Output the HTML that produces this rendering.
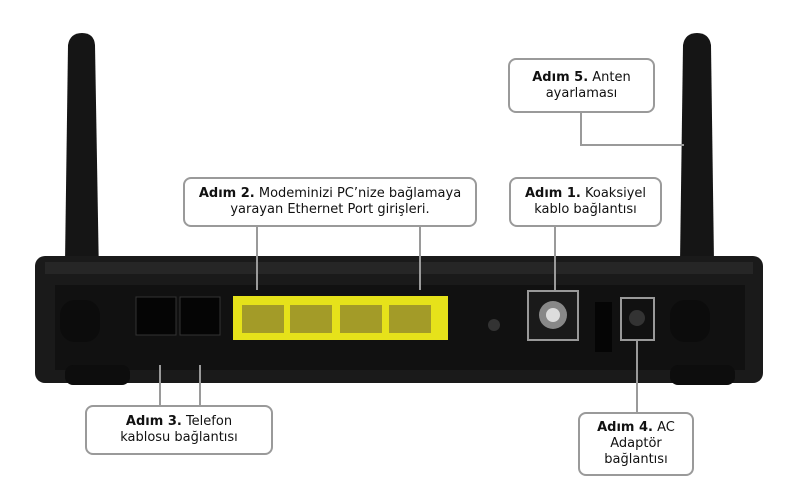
<!DOCTYPE html>
<html><head><style>
body{margin:0;width:799px;height:478px;background:#fff;position:relative;overflow:hidden;font-family:"DejaVu Sans","Liberation Sans",sans-serif;}
.a{position:absolute}
.box{position:absolute;border:2px solid #9a9a9a;border-radius:8px;background:#fff;font-size:13px;line-height:16px;text-align:center;color:#111;box-sizing:border-box;display:flex;align-items:center;justify-content:center}
.l{position:absolute;background:#9a9a9a}
</style></head><body>
<svg class="a" style="left:0;top:0" width="799" height="478">
<path d="M68,45 Q70,33 82,33 Q94,33 95,45 L100,335 L64,335 Z" fill="#151515"/>
<path d="M683,45 Q685,33 697,33 Q709,33 711,45 L715,335 L679,335 Z" fill="#151515"/>
<rect x="35" y="256" width="728" height="127" rx="10" fill="#1a1a1a"/>
<rect x="45" y="262" width="708" height="12" fill="#262626"/>
<rect x="55" y="285" width="690" height="85" fill="#111"/>
<rect x="60" y="300" width="40" height="42" rx="15" fill="#0c0c0c"/>
<rect x="670" y="300" width="40" height="42" rx="15" fill="#0c0c0c"/>
<rect x="65" y="365" width="65" height="20" rx="8" fill="#0d0d0d"/>
<rect x="670" y="365" width="65" height="20" rx="8" fill="#0d0d0d"/>
<rect x="136" y="297" width="40" height="38" fill="#050505" stroke="#333"/>
<rect x="180" y="297" width="40" height="38" fill="#050505" stroke="#333"/>
<rect x="233" y="296" width="215" height="44" fill="#e6e21a"/>
<g fill="#a39b28">
<rect x="242" y="305" width="42" height="28"/><rect x="290" y="305" width="42" height="28"/><rect x="340" y="305" width="42" height="28"/><rect x="389" y="305" width="42" height="28"/></g>
<circle cx="494" cy="325" r="6" fill="#333"/>
<rect x="528" y="291" width="50" height="49" fill="#1a1a1a" stroke="#999" stroke-width="2"/>
<circle cx="553" cy="315" r="14" fill="#888"/><circle cx="553" cy="315" r="7" fill="#ddd"/>
<rect x="595" y="302" width="17" height="50" fill="#050505"/>
<rect x="621" y="298" width="33" height="42" fill="#111" stroke="#999" stroke-width="2"/>
<circle cx="637" cy="318" r="8" fill="#333"/>
</svg>
<div class="l" style="left:580px;top:113px;width:2px;height:33px"></div>
<div class="l" style="left:580px;top:144px;width:104px;height:2px"></div>
<div class="l" style="left:256px;top:227px;width:2px;height:63px"></div>
<div class="l" style="left:419px;top:227px;width:2px;height:63px"></div>
<div class="l" style="left:554px;top:227px;width:2px;height:65px"></div>
<div class="l" style="left:159px;top:365px;width:2px;height:42px"></div>
<div class="l" style="left:199px;top:365px;width:2px;height:42px"></div>
<div class="l" style="left:636px;top:340px;width:2px;height:73px"></div>
<div class="box" style="left:508px;top:58px;width:147px;height:55px"><div><b>Adım 5.</b> Anten<br>ayarlaması</div></div>
<div class="box" style="left:183px;top:177px;width:294px;height:50px"><div><b>Adım 2.</b> Modeminizi PC’nize bağlamaya<br>yarayan Ethernet Port girişleri.</div></div>
<div class="box" style="left:509px;top:177px;width:153px;height:50px"><div><b>Adım 1.</b> Koaksiyel<br>kablo bağlantısı</div></div>
<div class="box" style="left:85px;top:405px;width:188px;height:50px"><div><b>Adım 3.</b> Telefon<br>kablosu bağlantısı</div></div>
<div class="box" style="left:578px;top:412px;width:116px;height:64px"><div><b>Adım 4.</b> AC<br>Adaptör<br>bağlantısı</div></div>
</body></html>
